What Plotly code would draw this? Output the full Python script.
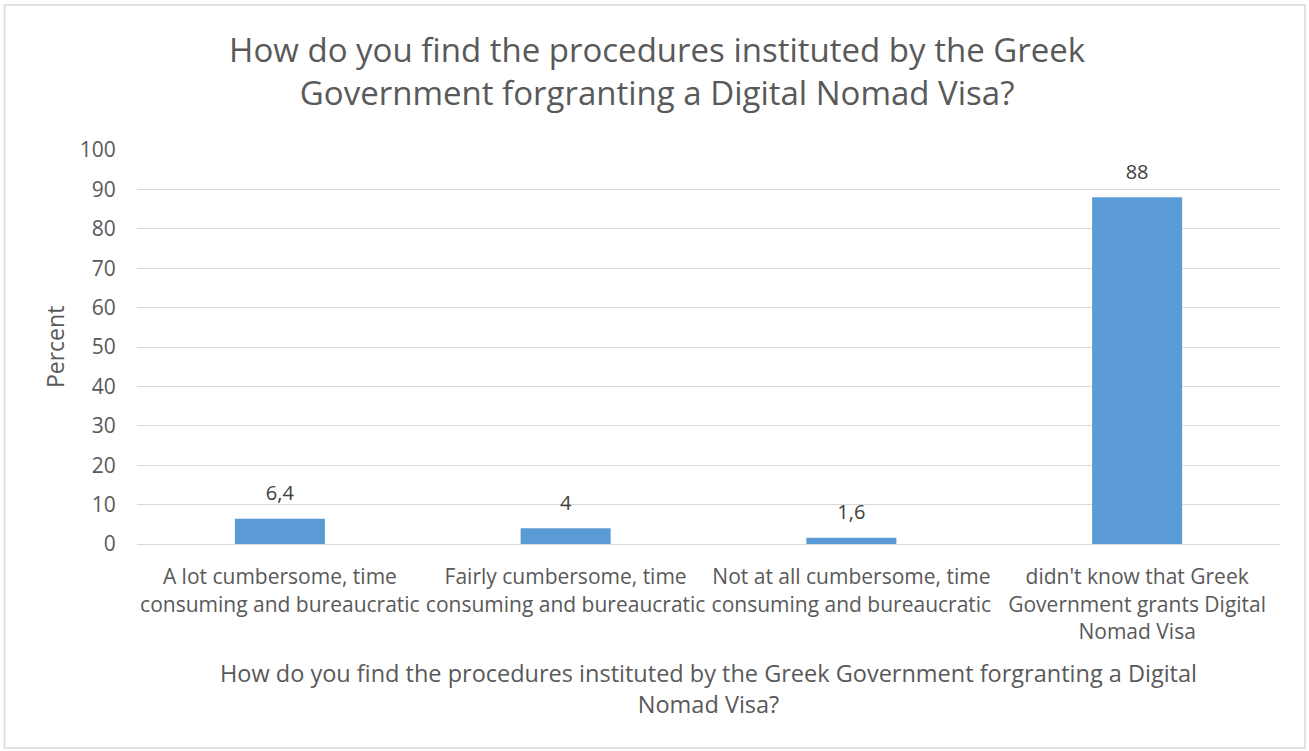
import plotly.graph_objects as go

categories = [
    "A lot cumbersome, time<br>consuming and bureaucratic",
    "Fairly cumbersome, time<br>consuming and bureaucratic",
    "Not at all cumbersome, time<br>consuming and bureaucratic",
    "didn't know that Greek<br>Government grants Digital<br>Nomad Visa",
]
percent = [6.4, 4, 1.6, 88]
y_ticks = list(range(0, 101, 10))

TEXT = "#595959"
GRID = "#d9d9d9"
BAR = "#5b9bd5"
FONT = "Open Sans"

labels = [f"{v:g}".replace(".", ",") for v in percent]

fig = go.Figure()
fig.add_trace(
    go.Bar(
        x=categories,
        y=percent,
        marker=dict(color=BAR, line=dict(width=0)),
        width=0.315,
        hoverinfo="y",
    )
)
# value labels, lifted above the bars by an invisible marker
fig.add_trace(
    go.Scatter(
        x=categories,
        y=percent,
        mode="markers+text",
        text=labels,
        textposition="top center",
        textfont=dict(size=20, color="#404040", family=FONT),
        marker=dict(size=20, color="rgba(0,0,0,0)"),
        hoverinfo="skip",
        cliponaxis=False,
    )
)

fig.update_layout(
    width=1309,
    height=751,
    paper_bgcolor="white",
    plot_bgcolor="white",
    font=dict(family=FONT, color=TEXT, size=21),
    margin=dict(l=137, r=29, t=150, b=207),
    showlegend=False,
    title=dict(
        text="How do you find the procedures instituted by the Greek<br>Government forgranting a Digital Nomad Visa?",
        x=0.502,
        xanchor="center",
        yref="container",
        y=1 - 62 / 751,
        yanchor="middle",
        font=dict(size=33, color=TEXT, family=FONT),
    ),
    annotations=[
        dict(
            text="How do you find the procedures instituted by the Greek Government forgranting a Digital<br>Nomad Visa?",
            xref="paper", yref="paper", x=0.5, y=-0.3655,
            xanchor="center", yanchor="middle", showarrow=False,
            font=dict(size=23.5, color=TEXT),
        ),
        dict(
            text="Percent",
            xref="paper", yref="paper", x=-0.0717, y=0.5,
            xanchor="center", yanchor="middle", textangle=-90, showarrow=False,
            font=dict(size=23, color=TEXT),
        ),
    ],
    shapes=[
        dict(
            type="rect", xref="paper", yref="paper",
            x0=-0.1159, x1=1.0219, y0=-0.518, y1=1.368,
            line=dict(color="#d9d9d9", width=1.5), layer="below",
        )
    ],
)

fig.update_xaxes(
    showgrid=False,
    showline=False,
    ticks="outside",
    ticklen=14,
    tickcolor="rgba(0,0,0,0)",
    tickfont=dict(size=21, color=TEXT),
)
fig.update_yaxes(
    range=[0, 100],
    tickvals=y_ticks,
    gridcolor=GRID,
    gridwidth=1.3,
    zeroline=True,
    zerolinecolor=GRID,
    zerolinewidth=1.3,
    showline=False,
    ticks="outside",
    ticklen=16,
    tickcolor="rgba(0,0,0,0)",
    tickfont=dict(size=21, color=TEXT),
)

fig.write_html(
    "out.html",
    config={"displayModeBar": False},
    post_script="document.body.style.margin='0';",
)
